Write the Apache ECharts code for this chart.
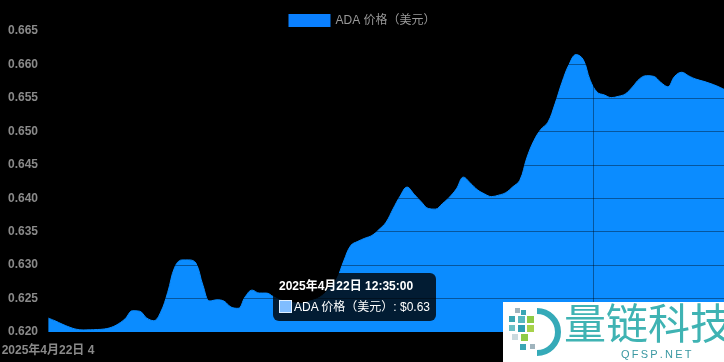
<!DOCTYPE html>
<html>
<head>
<meta charset="utf-8">
<script src="https://cdn.jsdelivr.net/npm/echarts@6/dist/echarts.min.js"></script>
<style>
  html, body { margin: 0; padding: 0; background: #000; }
  #chart { width: 724px; height: 362px; }
</style>
</head>
<body>
<div id="chart"></div>
<script>
// ---- data ----
const seriesName = 'ADA 价格（美元）';
const startHour = 4, startMinute = 50;   // first sample: 2025-04-22 04:50
const stepMinutes = 15;
const prices = [
  0.62210, 0.62167, 0.62118, 0.62075, 0.62042, 0.62031, 0.62033, 0.62037, 0.62045, 0.62070,
  0.62122, 0.62203, 0.62318, 0.62311, 0.62211, 0.62169, 0.62297, 0.62593, 0.62969, 0.63077,
  0.63078, 0.63030, 0.62700, 0.62463, 0.62481, 0.62461, 0.62372, 0.62354, 0.62526, 0.62626,
  0.62582, 0.62582, 0.62529, 0.62478, 0.62455, 0.62435, 0.62426, 0.62457, 0.62488, 0.62550,
  0.62662, 0.62793, 0.63062, 0.63293, 0.63355, 0.63402, 0.63443, 0.63531, 0.63640, 0.63840,
  0.64031, 0.64166, 0.64058, 0.63947, 0.63847, 0.63837, 0.63918, 0.64015, 0.64140, 0.64315,
  0.64224, 0.64125, 0.64064, 0.64024, 0.64046, 0.64083, 0.64170, 0.64267, 0.64605, 0.64861,
  0.65030, 0.65136, 0.65411, 0.65734, 0.66001, 0.66147, 0.66074, 0.65763, 0.65584, 0.65544,
  0.65504, 0.65523, 0.65560, 0.65663, 0.65784, 0.65832, 0.65822, 0.65734, 0.65667, 0.65823,
  0.65883, 0.65828, 0.65781, 0.65751, 0.65717, 0.65677, 0.65629
];
const yMin = 0.620, yMax = 0.665, yStep = 0.005;
const xSpanMinutes = 1440;
const xTickStep = 1161;
const xTickLabels = ['2025年4月22日 4', ''];
const tooltipIndex = 31; // 12:35:00

// ---- helpers ----
function timeLabel(m) {
  const total = startHour * 60 + startMinute + m;
  const day = 22 + Math.floor(total / 1440);
  const h = Math.floor(total / 60) % 24;
  const mm = total % 60;
  return '2025年4月' + day + '日 ' + h + ':' + String(mm).padStart(2, '0') + ':00';
}
const seriesData = prices.map((v, i) => [i * stepMinutes, v]);

const FONT = '"Liberation Sans", Arial, "Noto Sans CJK SC", sans-serif';
const CSSFONT = FONT.replace(/"/g, "'");
const BLUE = '#0a80ff';
const GRID_LINE = 'rgba(0,0,0,0.38)';

const chart = echarts.init(document.getElementById('chart'), null, { renderer: 'canvas' });
chart.setOption({
  backgroundColor: '#000',
  animation: false,
  textStyle: { fontFamily: FONT },
  legend: {
    top: 9,
    left: 'center',
    itemWidth: 42,
    itemHeight: 13,
    itemGap: 10,
    icon: 'rect',
    textStyle: { color: '#999', fontSize: 12, fontFamily: FONT },
    data: [seriesName]
  },
  grid: { left: 48, right: 0, top: 31, bottom: 30, containLabel: false, outerBoundsMode: 'none' },
  xAxis: {
    type: 'value',
    min: 0,
    max: xSpanMinutes,
    interval: xTickStep,
    z: 3,
    axisLine: { show: false },
    axisTick: { show: false },
    splitLine: { show: true, lineStyle: { color: GRID_LINE, width: 1 } },
    axisLabel: {
      color: '#8a8a8a',
      fontWeight: 'bold',
      fontSize: 12,
      margin: 13,
      fontFamily: FONT,
      showMaxLabel: false,
      hideOverlap: false,
      formatter: (v) => (v % xTickStep === 0 ? (xTickLabels[v / xTickStep] || '') : '')
    }
  },
  yAxis: {
    type: 'value',
    min: yMin,
    max: yMax,
    interval: yStep,
    z: 3,
    axisLine: { show: false },
    axisTick: { show: false },
    splitLine: { show: true, lineStyle: { color: GRID_LINE, width: 1 } },
    axisLabel: {
      color: '#8a8a8a',
      fontWeight: 'bold',
      fontSize: 12,
      margin: 10,
      fontFamily: FONT,
      formatter: (v) => v.toFixed(3)
    }
  },
  tooltip: {
    trigger: 'axis',
    alwaysShowContent: true,
    transitionDuration: 0,
    axisPointer: { type: 'line', lineStyle: { opacity: 0 } },
    backgroundColor: 'rgba(0,0,0,0.8)',
    borderWidth: 0,
    padding: [6, 6, 6, 6],
    extraCssText: 'box-shadow:none;border-radius:6px;',
    position: function (point) { return [point[0] + 7, point[1] - 20]; },
    formatter: function (params) {
      const p = params[0];
      const title = timeLabel(p.value[0]);
      return '<div style="font:bold 12px ' + CSSFONT + ';color:#fff;line-height:15px;margin-bottom:6px;">' + title + '</div>' +
        '<div style="font:12px ' + CSSFONT + ';color:#fff;line-height:15px;white-space:nowrap;">' +
        '<span style="display:inline-block;width:11px;height:11px;background:#80bdff;border:1px solid #dfefff;vertical-align:-2px;margin-right:2px;"></span>' +
        seriesName + ': $' + p.value[1].toFixed(2) + '</div>';
    }
  },
  series: [{
    name: seriesName,
    type: 'line',
    data: seriesData,
    smooth: 0.4,
    showSymbol: false,
    symbol: 'none',
    z: 2,
    lineStyle: { color: BLUE, width: 1 },
    itemStyle: { color: BLUE },
    areaStyle: { color: BLUE, opacity: 1, origin: 'start' }
  }],
  graphic: [
    { type: 'rect', z: 100, shape: { x: 503, y: 302, width: 221, height: 60 }, style: { fill: '#ffffff' } },
    { type: 'arc', z: 101, shape: { cx: 537, cy: 332, r: 21, startAngle: -Math.PI / 2, endAngle: Math.PI / 2 },
      style: { stroke: '#35aab8', lineWidth: 6, fill: 'none' } },
    { type: 'rect', z: 101, shape: { x: 515, y: 308, width: 5, height: 5 }, style: { fill: '#9fb4bd' } },
    { type: 'rect', z: 101, shape: { x: 521, y: 310, width: 5, height: 5 }, style: { fill: '#3aa6b4' } },
    { type: 'rect', z: 101, shape: { x: 509, y: 316, width: 6, height: 6 }, style: { fill: '#3aa6b4' } },
    { type: 'rect', z: 101, shape: { x: 518, y: 316, width: 7, height: 7 }, style: { fill: '#58b8c0' } },
    { type: 'rect', z: 101, shape: { x: 527, y: 316, width: 7, height: 7 }, style: { fill: '#8fcb45' } },
    { type: 'rect', z: 101, shape: { x: 509, y: 325, width: 6, height: 6 }, style: { fill: '#6bc0c6' } },
    { type: 'rect', z: 101, shape: { x: 518, y: 325, width: 7, height: 7 }, style: { fill: '#2f9fb2' } },
    { type: 'rect', z: 101, shape: { x: 527, y: 325, width: 7, height: 7 }, style: { fill: '#a7d24a' } },
    { type: 'rect', z: 101, shape: { x: 512, y: 334, width: 6, height: 6 }, style: { fill: '#c9d9de' } },
    { type: 'rect', z: 101, shape: { x: 521, y: 334, width: 7, height: 7 }, style: { fill: '#8fcb45' } },
    { type: 'rect', z: 101, shape: { x: 520, y: 344, width: 6, height: 6 }, style: { fill: '#3aa6b4' } },
    { type: 'rect', z: 101, shape: { x: 530, y: 344, width: 5, height: 5 }, style: { fill: '#9fb4bd' } },
    { type: 'text', z: 101, x: 564, y: 302,
      style: { text: '量链科技', fill: '#3fb3b3', font: '42px "Noto Sans CJK SC", sans-serif', verticalAlign: 'top', align: 'left' } },
    { type: 'text', z: 101, x: 621, y: 349,
      style: { text: 'Q\u2009F\u2009S\u2009P\u2009.\u2009N\u2009E\u2009T', fill: '#3a98a2', font: '11px "Liberation Sans", Arial, sans-serif', verticalAlign: 'top', align: 'left' } }
  ]
});

chart.dispatchAction({ type: 'showTip', seriesIndex: 0, dataIndex: tooltipIndex });
</script>
</body>
</html>
